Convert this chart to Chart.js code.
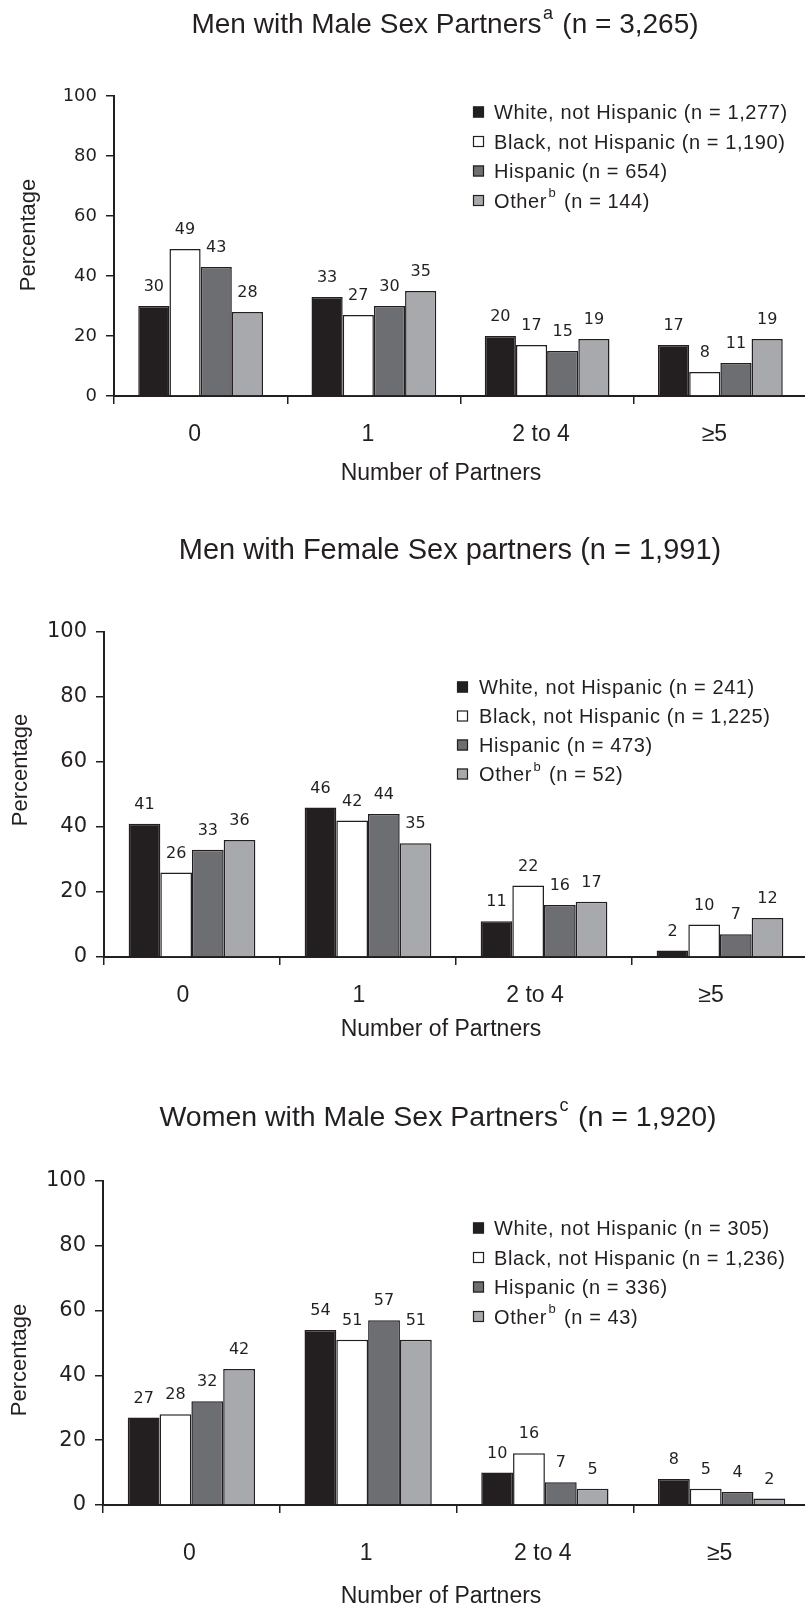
<!DOCTYPE html>
<html>
<head>
<meta charset="utf-8">
<script src="https://cdn.jsdelivr.net/npm/chart.js@4/dist/chart.umd.min.js"></script>
<style>
  html, body { margin: 0; padding: 0; background: #fff; width: 805px; height: 1604px; overflow: hidden; }
  canvas { position: absolute; left: 0; display: block; }
</style>
</head>
<body>
<canvas id="msm" width="815" height="530" style="top:0"></canvas>
<canvas id="msf" width="815" height="530" style="top:530px"></canvas>
<canvas id="wsm" width="815" height="544" style="top:1060px"></canvas>
<script>
  // categories and tick values
  const partners = ["0", "1", "2 to 4", "\u22655"];
  const yTicks = [0, 20, 40, 60, 80, 100];
  const groups = ["White, not Hispanic", "Black, not Hispanic", "Hispanic", "Other^{b}"];

  // men with male sex partners
  const msmTitle = "Men with Male Sex Partners^{a} (n = 3,265)";
  const msmN = ["1,277", "1,190", "654", "144"];
  const msmWhite = [30, 33, 20, 17];
  const msmBlack = [49, 27, 17, 8];
  const msmHisp = [43, 30, 15, 11];
  const msmOther = [28, 35, 19, 19];

  // men with female sex partners
  const msfTitle = "Men with Female Sex partners (n = 1,991)";
  const msfN = ["241", "1,225", "473", "52"];
  const msfWhite = [41, 46, 11, 2];
  const msfBlack = [26, 42, 22, 10];
  const msfHisp = [33, 44, 16, 7];
  const msfOther = [36, 35, 17, 12];

  // women with male sex partners
  const wsmTitle = "Women with Male Sex Partners^{c} (n = 1,920)";
  const wsmN = ["305", "1,236", "336", "43"];
  const wsmWhite = [27, 54, 10, 8];
  const wsmBlack = [28, 51, 16, 5];
  const wsmHisp = [32, 57, 7, 4];
  const wsmOther = [42, 51, 5, 2];

  const INK = "#231f20";
  const fills = ["#231f20", "#ffffff", "#6d6e71", "#a7a9ac"];
  const SANS = "'Liberation Sans', Arial, Helvetica, sans-serif";
  const ROUND = "'DejaVu Sans', sans-serif";

  function richParts(str) {
    return str.split(/(\^\{[^}]*\})/).filter(s => s.length).map(s =>
      s.startsWith("^{") ? { t: s.slice(2, -1), sup: true } : { t: s, sup: false });
  }

  // draws text with ^{..} superscripts; y is the visual middle of capitals
  function drawRich(ctx, str, x, y, size, align, spacing = 0) {
    const parts = richParts(str);
    const supSize = Math.round(size * 0.64);
    ctx.letterSpacing = spacing + "px";
    let w = 0;
    parts.forEach(p => {
      ctx.font = `${p.sup ? supSize : size}px ${SANS}`;
      p.w = ctx.measureText(p.t).width + (p.sup ? 3 : 0);
      w += p.w;
    });
    let cx = align === "center" ? x - w / 2 : x;
    const base = y + size * 0.36;
    ctx.textAlign = "left";
    ctx.textBaseline = "alphabetic";
    ctx.fillStyle = INK;
    parts.forEach(p => {
      ctx.font = `${p.sup ? supSize : size}px ${SANS}`;
      ctx.fillText(p.t, cx + (p.sup ? 1.5 : 0), p.sup ? base - size * 0.52 : base);
      cx += p.w;
    });
    ctx.letterSpacing = "0px";
  }

  function paperText(spec) {
    return {
      id: "paperText",
      afterDatasetsDraw(chart) {
        const ctx = chart.ctx;
        ctx.save();
        ctx.font = `16px ${ROUND}`;
        ctx.fillStyle = INK;
        ctx.textAlign = "center";
        ctx.textBaseline = "alphabetic";
        chart.data.datasets.forEach((ds, di) => {
          chart.getDatasetMeta(di).data.forEach((bar, i) => {
            ctx.fillText(String(ds.data[i]), bar.x, bar.y - 15);
          });
        });
        ctx.restore();
      },
      afterDraw(chart) {
        const ctx = chart.ctx;
        ctx.save();
        drawRich(ctx, spec.title, spec.titleX, spec.titleY, spec.titleSize, "center");
        drawRich(ctx, "Number of Partners", 441, spec.xTitleY, 23, "center");

        ctx.save();
        ctx.translate(spec.yTitleX, spec.yTitleY);
        ctx.rotate(-Math.PI / 2);
        drawRich(ctx, "Percentage", 0, 0, 22, "center");
        ctx.restore();

        groups.forEach((g, i) => {
          const y = spec.legendY + i * spec.legendStep;
          ctx.fillStyle = fills[i];
          ctx.fillRect(spec.boxX, y - 5.5, 11, 11);
          ctx.strokeStyle = INK;
          ctx.lineWidth = 1.2;
          ctx.strokeRect(spec.boxX + 0.5, y - 5, 10, 10);
          drawRich(ctx, `${g} (n = ${spec.n[i]})`, spec.textX, y, 20, "left", 0.6);
        });
        ctx.restore();
      }
    };
  }

  function makeChart(id, spec) {
    const canvas = document.getElementById(id);
    const axisH = 60;
    return new Chart(canvas, {
      type: "bar",
      data: {
        labels: partners,
        datasets: spec.series.map((vals, i) => ({
          label: groups[i],
          data: vals,
          backgroundColor: fills[i],
          borderColor: INK,
          borderWidth: 1.5,
          categoryPercentage: 0.72,
          barPercentage: 1
        }))
      },
      options: {
        responsive: false,
        animation: false,
        events: [],
        layout: {
          padding: { left: 0, top: spec.top, right: canvas.width - spec.right, bottom: canvas.height - spec.bottom - axisH }
        },
        plugins: { legend: { display: false }, tooltip: { enabled: false }, title: { display: false } },
        scales: {
          x: {
            z: 1,
            offset: true,
            grid: { display: true, offset: true, drawOnChartArea: false, drawTicks: true, tickLength: 8, color: INK, lineWidth: 1.5 },
            border: { display: true, color: INK, width: 2 },
            ticks: { color: INK, padding: spec.tickPad, labelOffset: spec.labelShift, font: { family: SANS, size: 23 } },
            afterFit: s => { s.height = axisH; }
          },
          y: {
            z: 1,
            min: 0,
            max: 100,
            grid: { display: true, drawOnChartArea: false, drawTicks: true, tickLength: 8, color: INK, lineWidth: 1.5 },
            border: { display: true, color: INK, width: 2 },
            ticks: { color: INK, padding: 9, font: { family: ROUND, size: spec.yTickSize } },
            afterBuildTicks: s => { s.ticks = yTicks.map(v => ({ value: v })); },
            afterFit: s => { s.width = spec.left; }
          }
        }
      },
      plugins: [paperText(spec)]
    });
  }

  makeChart("msm", {
    series: [msmWhite, msmBlack, msmHisp, msmOther], n: msmN, title: msmTitle,
    left: 114, top: 96, right: 807, bottom: 396, tickPad: 17, labelShift: -6, yTickSize: 18,
    titleX: 445, titleY: 23, titleSize: 28, xTitleY: 472, yTitleX: 27, yTitleY: 235,
    boxX: 473, textX: 494, legendY: 112, legendStep: 29.5
  });

  makeChart("msf", {
    series: [msfWhite, msfBlack, msfHisp, msfOther], n: msfN, title: msfTitle,
    left: 104, top: 102, right: 808, bottom: 427, tickPad: 17, labelShift: -9, yTickSize: 21,
    titleX: 450, titleY: 19, titleSize: 29, xTitleY: 498, yTitleX: 19, yTitleY: 240,
    boxX: 457, textX: 479, legendY: 157, legendStep: 29
  });

  makeChart("wsm", {
    series: [wsmWhite, wsmBlack, wsmHisp, wsmOther], n: wsmN, title: wsmTitle,
    left: 103, top: 121, right: 810, bottom: 445, tickPad: 27, labelShift: -2, yTickSize: 21,
    titleX: 438, titleY: 56, titleSize: 28.5, xTitleY: 535, yTitleX: 18, yTitleY: 300,
    boxX: 473, textX: 494, legendY: 168, legendStep: 29.5
  });
</script>
</body>
</html>
